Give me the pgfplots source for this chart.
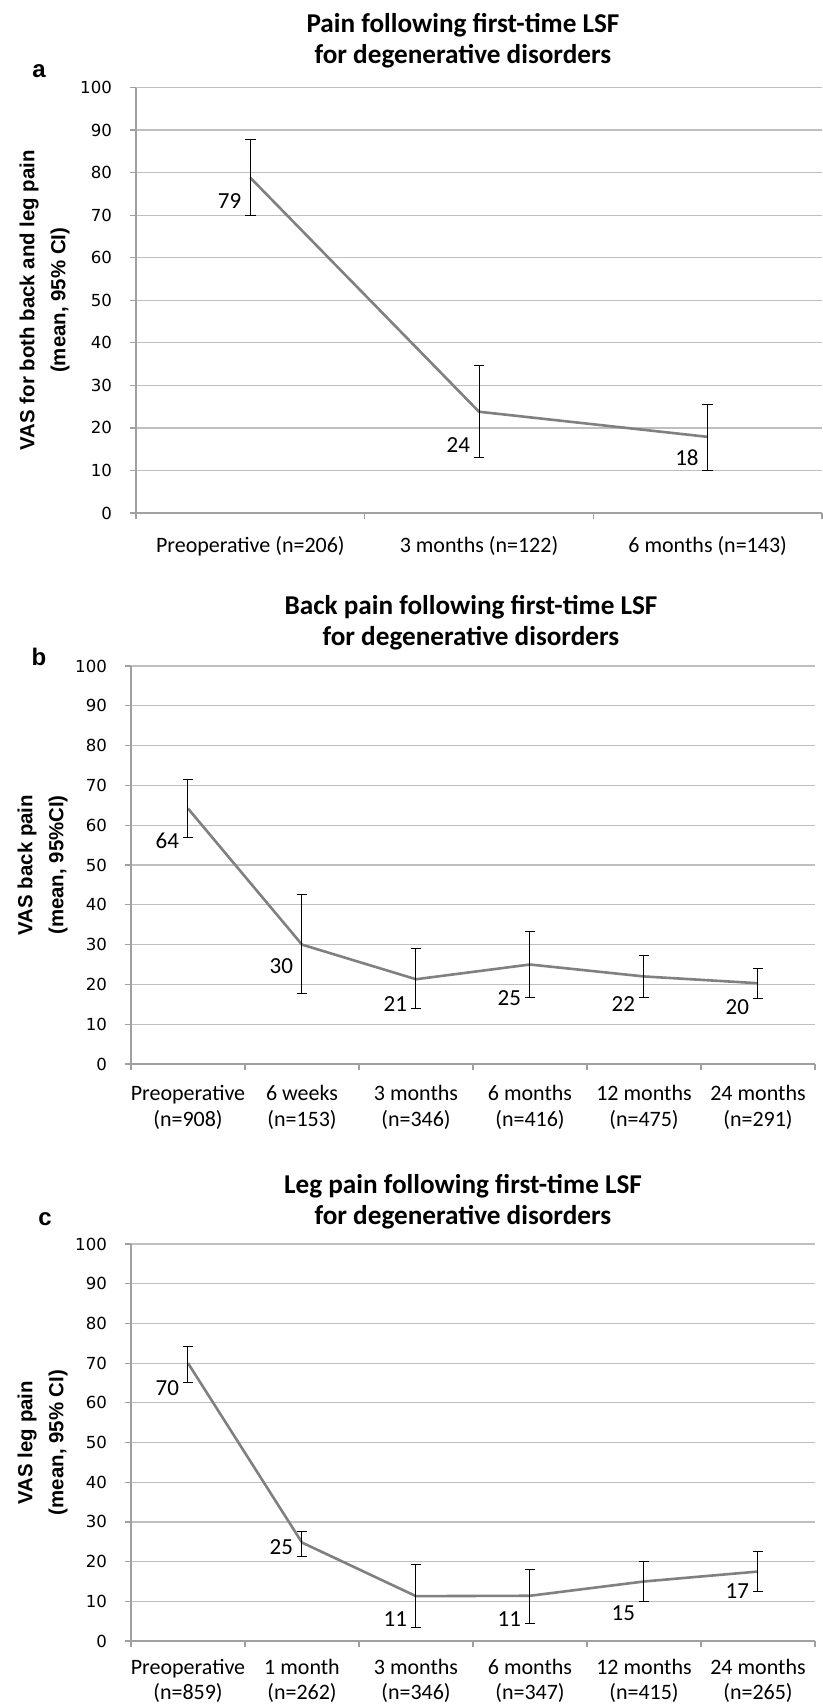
\documentclass[border=0pt]{standalone}
\usepackage{fontspec}
\setmainfont{Carlito}
\newfontfamily\dejavu{DejaVu Sans}
\newfontfamily\libsans{Liberation Sans}
\usepackage{pgfplots}
\pgfplotsset{compat=1.18}
\usepackage{pgfplotstable}

\definecolor{linegray}{RGB}{128,128,128}
\definecolor{gridgray}{RGB}{191,191,191}
\definecolor{axisgray}{RGB}{160,160,160}

\pgfplotstableread{
x y ep em ly lab
0.5 78.8 8.9 8.9 73.3 79
1.5 23.8 10.8 10.7 16.0 24
2.5 17.9 7.7 7.8 13.1 18
}\dataA

\pgfplotstableread{
x y ep em ly lab
0.5 64.2 7.2 7.3 56.0 64
1.5 30.0 12.5 12.3 24.5 30
2.5 21.3 7.7 7.4 15.0 21
3.5 25.0 8.2 8.4 16.6 25
4.5 22.0 5.2 5.4 15.0 22
5.5 20.3 3.7 3.9 14.4 20
}\dataB

\pgfplotstableread{
x y ep em ly lab
0.5 70.0 4.2 5.0 63.8 70
1.5 24.8 2.8 3.4 23.6 25
2.5 11.3 7.9 7.9 5.4 11
3.5 11.4 6.7 6.9 5.6 11
4.5 15.0 5.0 5.1 7.0 15
5.5 17.5 5.0 5.1 12.5 17
}\dataC

\pgfplotsset{
  vaspanel/.style={
    scale only axis,
    anchor=south west,
    ymin=0, ymax=100, ytick={0,10,...,100},
    axis lines*=left,
    axis line style={axisgray, line width=0.6pt},
    ymajorgrids,
    grid style={gridgray, line width=0.6pt},
    tick align=outside,
    major tick length=3pt,
    tick style={axisgray, line width=0.6pt},
    /pgf/number format/assume math mode=true,
    yticklabel style={font=\dejavu\fontsize{8.3}{10}\selectfont, anchor=east, xshift=-5.5pt},
    x tick label as interval,
    xticklabel style={align=center, anchor=north},
    clip=false,
  },
  meanline/.style={linegray, line width=1.3pt, line join=round, mark=none,
    error bars/.cd, y dir=both, y explicit,
    error bar style={black, line width=0.5pt},
    error mark options={rotate=90, black, mark size=2.6pt, line width=0.5pt}},
  vallabels/.style={draw=none, mark=none, nodes near coords, point meta=explicit symbolic,
    every node near coord/.append style={anchor=east, xshift=-1pt, text=black,
      font=\fontsize{11.5}{13}\selectfont}},
  every axis title/.style={align=center, anchor=center,
    font=\bfseries\fontsize{13.6}{15.5}\selectfont},
  every axis y label/.style={rotate=90, anchor=center, align=center,
    font=\libsans\bfseries\fontsize{10.2}{15.5}\selectfont},
}

\begin{document}
\begin{tikzpicture}
\useasboundingbox (0,0) rectangle (411.5pt,-852pt);

% ---------------- panel a
\begin{axis}[vaspanel,
  at={(68pt,-256.5pt)}, width=343pt, height=212.75pt,
  xmin=0, xmax=3, xtick={0,1,2,3},
  xticklabels={Preoperative (n=206),3 months (n=122),6 months (n=143)},
  xticklabel style={yshift=-5pt, font=\fontsize{11}{13}\selectfont},
  title={Pain following first-time LSF\\for degenerative disorders},
  title style={at={([xshift=-8pt,yshift=23.25pt]axis description cs:0.5,1)}},
  ylabel={VAS for both back and leg pain\\(mean, 95\% CI)},
  ylabel style={at={([xshift=-45.7pt]axis description cs:0,0.5)}},
]
\addplot[meanline] table[x=x, y=y, y error plus=ep, y error minus=em] {\dataA};
\addplot[vallabels] table[x=x, y=ly, meta=lab] {\dataA};
\end{axis}
\node[font=\libsans\bfseries\fontsize{12}{14}\selectfont] at (19.5pt,-35.5pt) {a};

% ---------------- panel b
\begin{axis}[vaspanel,
  at={(65.5pt,-532pt)}, width=342pt, height=199pt,
  xmin=0, xmax=6, xtick={0,1,...,6},
  xticklabels={{Preoperative\\(n=908)},{6 weeks\\(n=153)},{3 months\\(n=346)},{6 months\\(n=416)},{12 months\\(n=475)},{24 months\\(n=291)}},
  xticklabel style={yshift=-4.3pt, font=\fontsize{11}{13}\selectfont},
  title={Back pain following first-time LSF\\for degenerative disorders},
  title style={at={([xshift=-1pt,yshift=21.5pt]axis description cs:0.5,1)}},
  ylabel={VAS back pain\\(mean, 95\%CI)},
  ylabel style={at={([xshift=-44.25pt]axis description cs:0,0.5)}},
]
\addplot[meanline] table[x=x, y=y, y error plus=ep, y error minus=em] {\dataB};
\addplot[vallabels] table[x=x, y=ly, meta=lab] {\dataB};
\end{axis}
\node[font=\libsans\bfseries\fontsize{12}{14}\selectfont] at (19.5pt,-328.5pt) {b};

% ---------------- panel c
\begin{axis}[vaspanel,
  at={(65.5pt,-820.5pt)}, width=342pt, height=198.5pt,
  xmin=0, xmax=6, xtick={0,1,...,6},
  xticklabels={{Preoperative\\(n=859)},{1 month\\(n=262)},{3 months\\(n=346)},{6 months\\(n=347)},{12 months\\(n=415)},{24 months\\(n=265)}},
  xticklabel style={yshift=-2.8pt, font=\fontsize{11}{12.3}\selectfont},
  title={Leg pain following first-time LSF\\for degenerative disorders},
  title style={at={([xshift=-5pt,yshift=21pt]axis description cs:0.5,1)}},
  ylabel={VAS leg pain\\(mean, 95\% CI)},
  ylabel style={at={([xshift=-44.25pt]axis description cs:0,0.5)}},
]
\addplot[meanline] table[x=x, y=y, y error plus=ep, y error minus=em] {\dataC};
\addplot[vallabels] table[x=x, y=ly, meta=lab] {\dataC};
\end{axis}
\node[font=\libsans\bfseries\fontsize{12}{14}\selectfont] at (22.5pt,-609.5pt) {c};
\end{tikzpicture}
\end{document}
